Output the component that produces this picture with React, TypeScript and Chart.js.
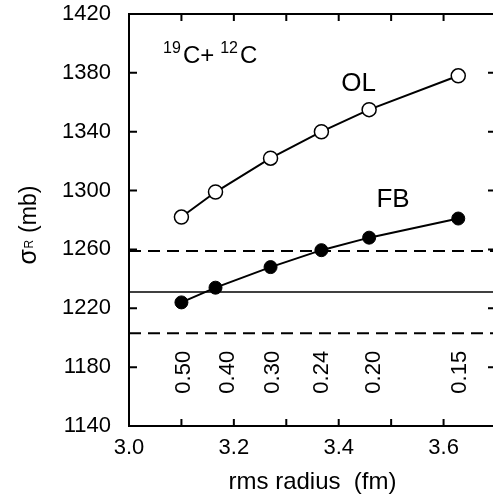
import React, { useEffect, useRef } from 'react';
import { Chart, registerables } from 'chart.js';

Chart.register(...registerables);

// ---- data ----
const rmsRadius = [3.1, 3.165, 3.27, 3.367, 3.458, 3.628];
const sigmaOL = [1282, 1299, 1322, 1340, 1355, 1378];
const sigmaFB = [1224, 1234, 1248, 1259.5, 1268, 1281];
const paramLabels = ['0.50', '0.40', '0.30', '0.24', '0.20', '0.15'];
const paramLabelX = [3.105, 3.189, 3.275, 3.368, 3.467, 3.632];
const paramLabelY = 1176.5;
const expValue = 1231;
const expUpper = 1259;
const expLower = 1203;
const xRange = [3.0, 3.7];
const yRange = [1140, 1420];
const xTickLabels = [3.0, 3.2, 3.4, 3.6];
const xTickMarks = [3.0, 3.1, 3.2, 3.3, 3.4, 3.5, 3.6, 3.7];
const yTickLabels = [1140, 1180, 1220, 1260, 1300, 1340, 1380, 1420];
const seriesNames = ['OL', 'FB'];
const seriesNamePos = [
  [3.405, 1367.7],
  [3.472, 1288.9],
];
const reactionPos = [3.065, 1386.7];

const FONT = '"Liberation Sans", Arial, Helvetica, sans-serif';

const overlayPlugin = {
  id: 'overlay',
  afterDatasetsDraw(chart: any) {
    const { ctx, chartArea } = chart;
    const xs = chart.scales.x;
    const ys = chart.scales.y;
    const { left, right, top, bottom } = chartArea;
    ctx.save();
    ctx.strokeStyle = '#000';
    ctx.lineWidth = 2;
    ctx.beginPath();
    ctx.moveTo(right + 1, top);
    ctx.lineTo(left, top);
    ctx.lineTo(left, bottom);
    ctx.lineTo(right + 1, bottom);
    ctx.stroke();
    ctx.beginPath();
    for (const v of xTickMarks) {
      const px = xs.getPixelForValue(v);
      ctx.moveTo(px, bottom);
      ctx.lineTo(px, bottom - 7);
      ctx.moveTo(px, top);
      ctx.lineTo(px, top + 7);
    }
    for (const v of yTickLabels) {
      const py = ys.getPixelForValue(v);
      ctx.moveTo(left, py);
      ctx.lineTo(left + 8, py);
      ctx.moveTo(right, py);
      ctx.lineTo(right - 8, py);
    }
    ctx.stroke();
    ctx.restore();
  },
  afterDraw(chart: any) {
    const { ctx, chartArea } = chart;
    const xs = chart.scales.x;
    const ys = chart.scales.y;
    ctx.save();
    ctx.fillStyle = '#000';

    // rotated parameter labels
    ctx.font = `22px ${FONT}`;
    ctx.textAlign = 'center';
    ctx.textBaseline = 'middle';
    paramLabels.forEach((t, i) => {
      const px = xs.getPixelForValue(paramLabelX[i]);
      const py = ys.getPixelForValue(paramLabelY);
      ctx.save();
      ctx.translate(px, py);
      ctx.rotate(-Math.PI / 2);
      ctx.fillText(t, 0, 0);
      ctx.restore();
    });

    // series names
    ctx.font = `26px ${FONT}`;
    ctx.textAlign = 'left';
    ctx.textBaseline = 'alphabetic';
    seriesNames.forEach((t, i) => {
      ctx.fillText(t, xs.getPixelForValue(seriesNamePos[i][0]), ys.getPixelForValue(seriesNamePos[i][1]));
    });

    // reaction label 19C+12C
    let rx = xs.getPixelForValue(reactionPos[0]);
    const ry = ys.getPixelForValue(reactionPos[1]);
    const parts: [string, boolean, number][] = [
      ['19', true, 2],
      ['C', false, 0],
      ['+', false, 6],
      ['12', true, 2],
      ['C', false, 0],
    ];
    for (const [t, sup, gap] of parts) {
      ctx.font = sup ? `16px ${FONT}` : `24px ${FONT}`;
      ctx.fillText(t, rx, sup ? ry - 10 : ry);
      rx += ctx.measureText(t).width + gap;
    }

    // x axis title
    ctx.font = `24px ${FONT}`;
    ctx.textAlign = 'center';
    ctx.textBaseline = 'middle';
    ctx.fillText('rms radius  (fm)', (chartArea.left + chartArea.right) / 2, 482);

    // y axis title
    ctx.save();
    ctx.translate(36, (chartArea.top + chartArea.bottom) / 2 + 5);
    ctx.rotate(-Math.PI / 2);
    ctx.textAlign = 'left';
    ctx.textBaseline = 'alphabetic';
    ctx.font = `25px ${FONT}`;
    const wS = ctx.measureText('σ').width;
    ctx.font = `12px ${FONT}`;
    const wR = ctx.measureText('R').width;
    ctx.font = `23px ${FONT}`;
    const wM = ctx.measureText(' (mb)').width;
    const total = wS + wR + wM + 1;
    let tx = -total / 2;
    ctx.font = `25px ${FONT}`;
    ctx.fillText('σ', tx, 0);
    tx += wS + 0.5;
    ctx.font = `12px ${FONT}`;
    ctx.fillText('R', tx, -3);
    tx += wR + 0.5;
    ctx.font = `23px ${FONT}`;
    ctx.fillText(' (mb)', tx, 0);
    ctx.restore();

    ctx.restore();
  },
};

export default function App() {
  const canvasRef = useRef<HTMLCanvasElement | null>(null);

  useEffect(() => {
    const canvas = canvasRef.current;
    if (!canvas) return;
    const lineSpan = (v: number) => [
      { x: xRange[0], y: v },
      { x: xRange[1], y: v },
    ];
    const chart = new Chart(canvas, {
      type: 'scatter',
      data: {
        datasets: [
          {
            label: 'OL',
            data: rmsRadius.map((x, i) => ({ x, y: sigmaOL[i] })),
            showLine: true,
            borderColor: '#000',
            borderWidth: 2,
            pointRadius: 7,
            pointBorderWidth: 1.5,
            pointBackgroundColor: '#fff',
            pointBorderColor: '#000',
            order: 1,
          },
          {
            label: 'FB',
            data: rmsRadius.map((x, i) => ({ x, y: sigmaFB[i] })),
            showLine: true,
            borderColor: '#000',
            borderWidth: 2,
            pointRadius: 6.5,
            pointBorderWidth: 1,
            pointBackgroundColor: '#000',
            pointBorderColor: '#000',
            order: 1,
          },
          {
            label: 'exp',
            data: lineSpan(expValue),
            showLine: true,
            borderColor: '#000',
            borderWidth: 1.5,
            pointRadius: 0,
            order: 2,
          },
          {
            label: 'exp+',
            data: lineSpan(expUpper),
            showLine: true,
            borderColor: '#000',
            borderWidth: 2,
            borderDash: [12, 7],
            pointRadius: 0,
            order: 2,
          },
          {
            label: 'exp-',
            data: lineSpan(expLower),
            showLine: true,
            borderColor: '#000',
            borderWidth: 2,
            borderDash: [12, 7],
            pointRadius: 0,
            order: 2,
          },
        ],
      },
      options: {
        responsive: false,
        maintainAspectRatio: false,
        animation: false,
        devicePixelRatio: 1,
        layout: { padding: { top: 14, right: 24, left: 0, bottom: 0 } },
        plugins: {
          legend: { display: false },
          tooltip: { enabled: false },
        },
        scales: {
          x: {
            type: 'linear',
            min: xRange[0],
            max: xRange[1],
            grid: { display: false, drawTicks: false },
            border: { display: false },
            afterBuildTicks: (s: any) => {
              s.ticks = xTickLabels.map((v) => ({ value: v }));
            },
            afterFit: (s: any) => {
              s.height = 69;
              s.paddingLeft = 0;
              s.paddingRight = 0;
            },
            ticks: {
              color: '#000',
              padding: 9,
              maxRotation: 0,
              font: { family: FONT, size: 22 },
              callback: (v: any) => Number(v).toFixed(1),
            },
          },
          y: {
            type: 'linear',
            min: yRange[0],
            max: yRange[1],
            grid: { display: false, drawTicks: false },
            border: { display: false },
            afterBuildTicks: (s: any) => {
              s.ticks = yTickLabels.map((v) => ({ value: v }));
            },
            afterFit: (s: any) => {
              s.width = 129;
              s.paddingTop = 0;
              s.paddingBottom = 0;
            },
            ticks: {
              color: '#000',
              padding: 18,
              font: { family: FONT, size: 22 },
              callback: (v: any) => String(v),
            },
          },
        },
      },
      plugins: [overlayPlugin],
    });
    return () => chart.destroy();
  }, []);

  return (
    <div
      style={{
        position: 'absolute',
        left: 0,
        top: 0,
        width: 493,
        height: 495,
        overflow: 'hidden',
        background: '#fff',
      }}
    >
      <canvas ref={canvasRef} width={520} height={495} style={{ display: 'block' }} />
    </div>
  );
}
